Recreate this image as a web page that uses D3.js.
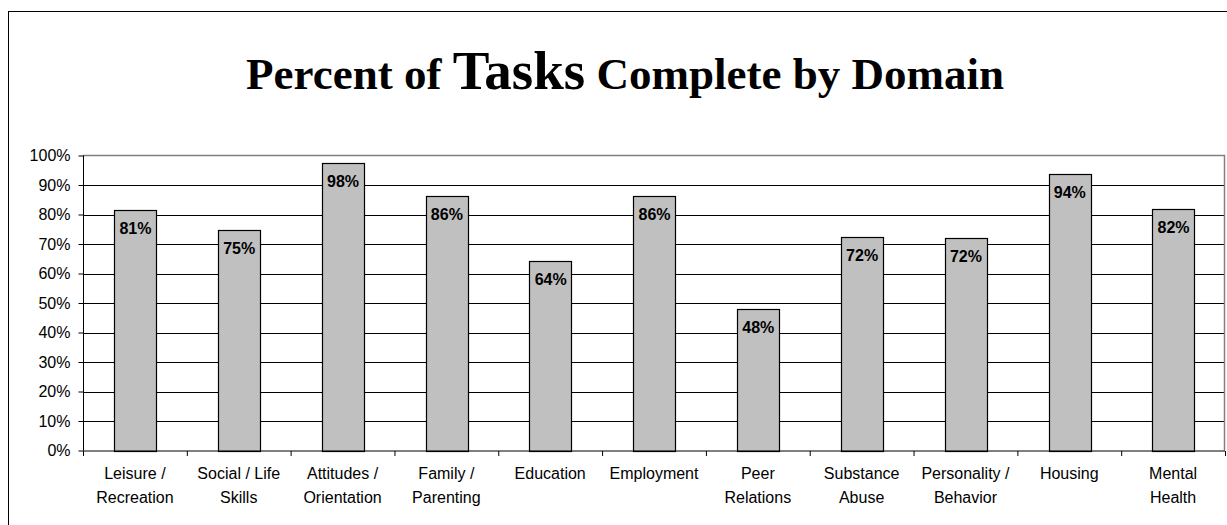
<!DOCTYPE html>
<html>
<head>
<meta charset="utf-8">
<script src="https://cdn.jsdelivr.net/npm/d3@7"></script>
<style>
  body { margin: 0; background: #fff; }
  svg { display: block; }
</style>
</head>
<body>
<div id="chart"></div>
<script>
const domains = [
  ["Leisure /", "Recreation"],
  ["Social / Life", "Skills"],
  ["Attitudes /", "Orientation"],
  ["Family /", "Parenting"],
  ["Education"],
  ["Employment"],
  ["Peer", "Relations"],
  ["Substance", "Abuse"],
  ["Personality /", "Behavior"],
  ["Housing"],
  ["Mental", "Health"]
];
const percentComplete = [81.4, 74.8, 97.5, 86.3, 64.2, 86.2, 47.9, 72.4, 72.1, 93.8, 82.0];
const yTicks = [0, 10, 20, 30, 40, 50, 60, 70, 80, 90, 100];

const W = 1227, H = 525;
const plot = { left: 83, right: 1225, top: 155.5, bottom: 450.5 };

const svg = d3.select("#chart").append("svg")
  .attr("width", W)
  .attr("height", H);

// outer frame (runs off the right and bottom edge)
svg.append("rect")
  .attr("x", 8.5).attr("y", 11.5)
  .attr("width", 1240).attr("height", 530)
  .attr("fill", "none")
  .attr("stroke", "#000")
  .attr("stroke-width", 1);

// title
const title = svg.append("text")
  .attr("x", 625)
  .attr("y", 89)
  .attr("text-anchor", "middle")
  .attr("font-family", "Liberation Serif, Times New Roman, serif")
  .attr("font-weight", "bold")
  .attr("font-size", 45)
  .attr("fill", "#000");
title.append("tspan").text("Percent of ");
title.append("tspan").attr("font-size", 55).text("Tasks");
title.append("tspan").text(" Complete by Domain");

const x = d3.scaleBand()
  .domain(d3.range(domains.length))
  .range([plot.left, plot.right])
  .paddingInner(0.6)
  .paddingOuter(0.3);

const xEdges = d3.scaleLinear()
  .domain([0, domains.length])
  .range([plot.left, plot.right]);

const y = d3.scaleLinear().domain([0, 100]).range([plot.bottom, plot.top]);

// gridlines
svg.append("g")
  .selectAll("line")
  .data(yTicks.filter(d => d > 0 && d < 100))
  .join("line")
  .attr("x1", plot.left).attr("x2", plot.right)
  .attr("y1", d => Math.round(y(d)) + 0.5)
  .attr("y2", d => Math.round(y(d)) + 0.5)
  .attr("stroke", "#000")
  .attr("stroke-width", 1);

// plot frame top/right in gray
svg.append("path")
  .attr("d", `M${plot.left},${plot.top}H${plot.right - 0.5}V${plot.bottom}`)
  .attr("fill", "none")
  .attr("stroke", "#808080")
  .attr("stroke-width", 1.5);

// bars
svg.append("g")
  .selectAll("rect")
  .data(percentComplete)
  .join("rect")
  .attr("x", (d, i) => Math.round(x(i)) + 0.5)
  .attr("y", d => Math.round(y(d)) + 0.5)
  .attr("width", Math.round(x.bandwidth()))
  .attr("height", d => Math.round(plot.bottom) - Math.round(y(d)))
  .attr("fill", "#c0c0c0")
  .attr("stroke", "#000")
  .attr("stroke-width", 1.2);

// value labels
svg.append("g")
  .selectAll("text")
  .data(percentComplete)
  .join("text")
  .attr("x", (d, i) => x(i) + x.bandwidth() / 2 + 0.5)
  .attr("y", d => y(d) + 24)
  .attr("text-anchor", "middle")
  .attr("font-family", "Liberation Sans, Arial, sans-serif")
  .attr("font-weight", "bold")
  .attr("font-size", 16)
  .attr("fill", "#000")
  .text(d => Math.round(d) + "%");

// y axis
const yAxis = svg.append("g")
  .attr("transform", `translate(${plot.left + 0.5},0)`)
  .call(d3.axisLeft(y).tickValues(yTicks).tickSize(5).tickPadding(8).tickFormat(d => d + "%"));
yAxis.select(".domain").attr("d", `M0,${plot.top}V${plot.bottom}`).attr("stroke", "#000");
yAxis.selectAll(".tick line").attr("stroke", "#000");
yAxis.selectAll(".tick text")
  .attr("font-family", "Liberation Sans, Arial, sans-serif")
  .attr("font-size", 16)
  .attr("fill", "#000");

// x axis
const xAxis = svg.append("g")
  .attr("transform", `translate(0,${plot.bottom + 0.5})`)
  .call(d3.axisBottom(xEdges).tickValues(d3.range(domains.length + 1)).tickSize(5).tickFormat(""));
xAxis.select(".domain").attr("d", `M${plot.left},0H${plot.right}`).attr("stroke", "#000");
xAxis.selectAll(".tick line").attr("stroke", "#000");

// category labels
const cats = svg.append("g")
  .selectAll("text")
  .data(domains)
  .join("text")
  .attr("x", (d, i) => x(i) + x.bandwidth() / 2)
  .attr("y", 479)
  .attr("text-anchor", "middle")
  .attr("font-family", "Liberation Sans, Arial, sans-serif")
  .attr("font-size", 16)
  .attr("fill", "#000");
cats.selectAll("tspan")
  .data(d => d)
  .join("tspan")
  .attr("x", function () { return d3.select(this.parentNode).attr("x"); })
  .attr("dy", (d, i) => i === 0 ? 0 : 24)
  .text(d => d);
</script>
</body>
</html>
